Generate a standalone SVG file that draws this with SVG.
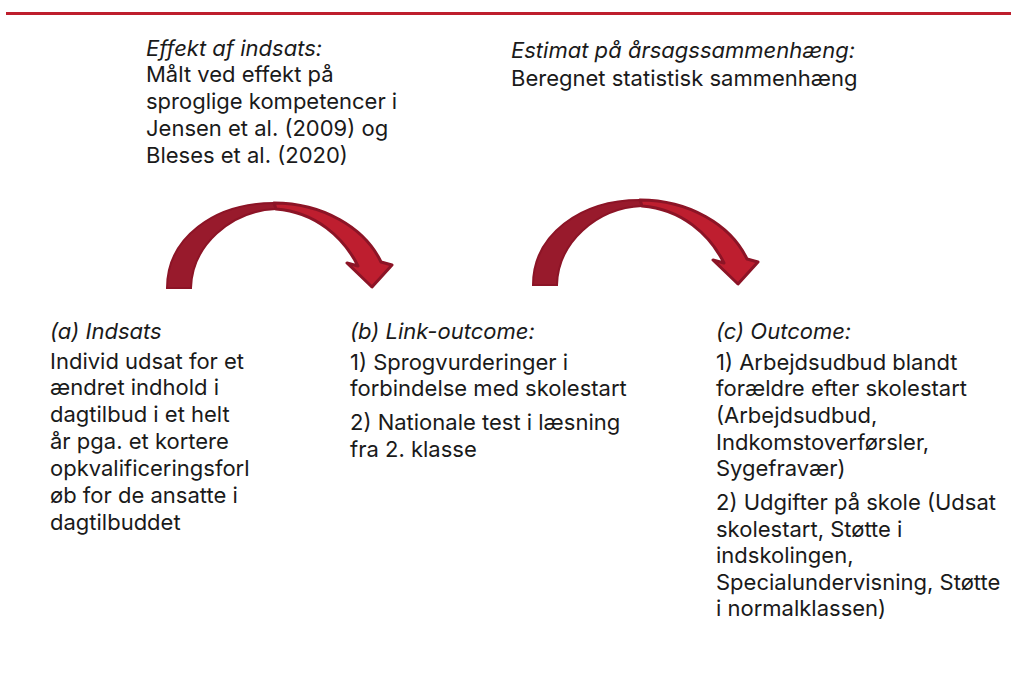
<svg xmlns="http://www.w3.org/2000/svg" width="1011" height="695" viewBox="0 0 1011 695">
<style>
text{font-family:Inter,"Noto Sans",sans-serif;font-size:22px;fill:#1a1a1a}
.it{font-style:italic}
.back{fill:#981a2c;stroke:#8c1426;stroke-width:2}
.front{fill:#be1e2f;stroke:#8c1426;stroke-width:3;stroke-linejoin:round}
</style>
<defs>
<g id="curved">
<path class="back" d="M167,288 C167,238 214,203 274,203 L276,209 C230,211 192,246 191,288 Z"/>
<path class="front" d="M274,203 C323,203 365,228 381,262 L392,265 L372,287 L347,263 L358,266 C344,238 316,212 276,209 Z"/>
</g>
</defs>
<rect x="6" y="12" width="1005" height="3" fill="#be1e2d"/>
<g id="connectors">
<use href="#curved"/>
<use href="#curved" transform="translate(366,-3)"/>
</g>
<g id="effekt">
<text x="146" y="56" class="it">Effekt af indsats:</text>
<text x="146" y="82">Målt ved effekt på</text>
<text x="146" y="109">sproglige kompetencer i</text>
<text x="146" y="136">Jensen et al. (2009) og</text>
<text x="146" y="163">Bleses et al. (2020)</text>
</g>
<g id="estimat">
<text x="511" y="58" class="it">Estimat på årsagssammenhæng:</text>
<text x="511" y="86">Beregnet statistisk sammenhæng</text>
</g>
<g id="indsats">
<text x="50" y="339" class="it">(a) Indsats</text>
<text x="50" y="369">Individ udsat for et</text>
<text x="50" y="395">ændret indhold i</text>
<text x="50" y="422">dagtilbud i et helt</text>
<text x="50" y="449">år pga. et kortere</text>
<text x="50" y="476">opkvalificeringsforl</text>
<text x="50" y="503">øb for de ansatte i</text>
<text x="50" y="530">dagtilbuddet</text>
</g>
<g id="link">
<text x="350" y="339" class="it">(b) Link-outcome:</text>
<text x="350" y="370">1) Sprogvurderinger i</text>
<text x="350" y="396">forbindelse med skolestart</text>
<text x="350" y="430">2) Nationale test i læsning</text>
<text x="350" y="457">fra 2. klasse</text>
</g>
<g id="outcome">
<text x="716" y="339" class="it">(c) Outcome:</text>
<text x="716" y="370">1) Arbejdsudbud blandt</text>
<text x="716" y="396">forældre efter skolestart</text>
<text x="716" y="423">(Arbejdsudbud,</text>
<text x="716" y="450">Indkomstoverførsler,</text>
<text x="716" y="476">Sygefravær)</text>
<text x="716" y="510">2) Udgifter på skole (Udsat</text>
<text x="716" y="537">skolestart, Støtte i</text>
<text x="716" y="563">indskolingen,</text>
<text x="716" y="590">Specialundervisning, Støtte</text>
<text x="716" y="616">i normalklassen)</text>
</g>
</svg>
